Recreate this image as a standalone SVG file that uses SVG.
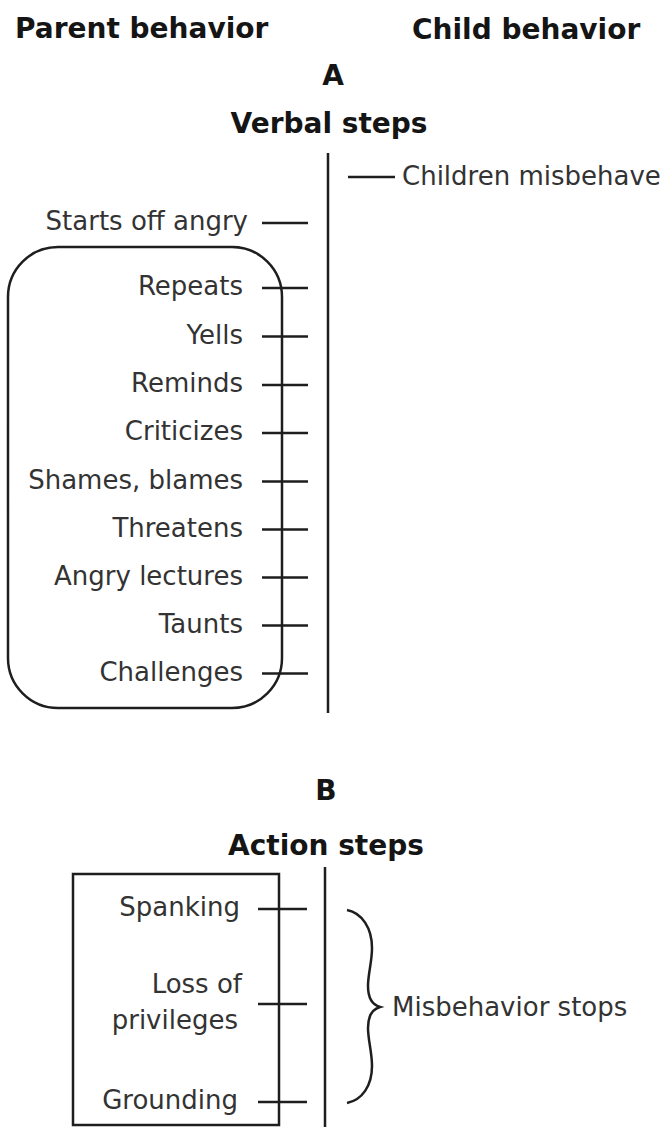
<svg xmlns="http://www.w3.org/2000/svg" width="665" height="1127" viewBox="0 0 665 1127">
<style>
.hd{font-family:"DejaVu Sans","Liberation Sans",sans-serif;font-weight:700;font-size:28px;fill:#151515}
.lb{font-family:"DejaVu Sans","Liberation Sans",sans-serif;font-size:26px;fill:#333}
.end{text-anchor:end}
.mid{text-anchor:middle}
.ln{stroke:#1e1e1e;stroke-width:2.5;fill:none}
.tk{stroke:#1e1e1e;stroke-width:2.4}
</style>
<rect width="665" height="1127" fill="#fff"/>
<g id="headers">
<text class="hd" x="15" y="38">Parent behavior</text>
<text class="hd" x="412" y="39">Child behavior</text>
<text class="hd mid" x="333" y="85">A</text>
<text class="hd mid" x="329" y="133">Verbal steps</text>
<text class="hd mid" x="326" y="800">B</text>
<text class="hd mid" x="326" y="855">Action steps</text>
</g>
<g id="connectors">
<line class="ln" x1="328" y1="153" x2="328" y2="713"/>
<line class="ln" x1="325" y1="867" x2="325" y2="1127"/>
<line class="tk" x1="348" y1="177" x2="395" y2="177"/>
<line class="tk" x1="262" y1="223" x2="308" y2="223"/>
<line class="tk" x1="262" y1="288" x2="308" y2="288"/>
<line class="tk" x1="262" y1="336.5" x2="308" y2="336.5"/>
<line class="tk" x1="262" y1="385" x2="308" y2="385"/>
<line class="tk" x1="262" y1="433" x2="308" y2="433"/>
<line class="tk" x1="262" y1="481.5" x2="308" y2="481.5"/>
<line class="tk" x1="262" y1="529.5" x2="308" y2="529.5"/>
<line class="tk" x1="262" y1="577.5" x2="308" y2="577.5"/>
<line class="tk" x1="262" y1="625.5" x2="308" y2="625.5"/>
<line class="tk" x1="262" y1="673.5" x2="308" y2="673.5"/>
<line class="tk" x1="258" y1="909" x2="307" y2="909"/>
<line class="tk" x1="258" y1="1004" x2="307" y2="1004"/>
<line class="tk" x1="258" y1="1102" x2="307" y2="1102"/>
<path class="ln" d="M347,910 C362,913 372,928 372,948 C372,962 368,974 368,986 C368,998 373,1005 380,1007 C373,1009 368,1016 368,1028 C368,1040 372,1052 372,1066 C372,1086 362,1100 347,1103"/>
</g>
<g id="child-misbehave">
<text class="lb" x="402" y="185">Children misbehave</text>
</g>
<g id="starts-angry">
<text class="lb end" x="248" y="230">Starts off angry</text>
</g>
<g id="verbal-box">
<rect class="ln" x="8" y="247" width="274" height="461" rx="50" ry="50"/>
<text class="lb end" x="243" y="295">Repeats</text>
<text class="lb end" x="243" y="343.5">Yells</text>
<text class="lb end" x="243" y="392">Reminds</text>
<text class="lb end" x="243" y="440">Criticizes</text>
<text class="lb end" x="243" y="488.5">Shames, blames</text>
<text class="lb end" x="243" y="536.5">Threatens</text>
<text class="lb end" x="243" y="584.5">Angry lectures</text>
<text class="lb end" x="243" y="632.5">Taunts</text>
<text class="lb end" x="243" y="680.5">Challenges</text>
</g>
<g id="action-box">
<rect class="ln" x="73" y="874" width="206" height="251"/>
<text class="lb end" x="240" y="916">Spanking</text>
<text class="lb end" x="242" y="993">Loss of</text>
<text class="lb end" x="238" y="1029">privileges</text>
<text class="lb end" x="238" y="1109">Grounding</text>
</g>
<g id="misbehavior-stops">
<text class="lb" x="392" y="1016">Misbehavior stops</text>
</g>
</svg>
